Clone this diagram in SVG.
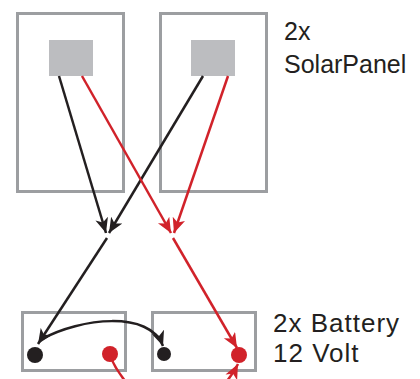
<svg xmlns="http://www.w3.org/2000/svg" width="420" height="379" viewBox="0 0 420 379">
<style>
.frame{fill:none;stroke:#9c9ea1;stroke-width:3}
.cell{fill:#bcbdc0}
.blk{fill:none;stroke:#231f20;stroke-width:2.5}
.red{fill:none;stroke:#d1222a;stroke-width:2.5}
.lbl{font-family:"Liberation Sans",Arial,sans-serif;font-size:25px;fill:#231f20}
.lb2{font-family:"Liberation Sans",Arial,sans-serif;font-size:26px;letter-spacing:1px;fill:#231f20}
</style>
<defs>
<marker id="ab" markerUnits="userSpaceOnUse" markerWidth="18" markerHeight="14" refX="15" refY="6.5" orient="auto">
<path d="M0,0 L15,6.5 L0,13 L4,6.5 Z" fill="#231f20"/>
</marker>
<marker id="ar" markerUnits="userSpaceOnUse" markerWidth="18" markerHeight="14" refX="15" refY="6.5" orient="auto">
<path d="M0,0 L15,6.5 L0,13 L4,6.5 Z" fill="#d1222a"/>
</marker>
</defs>
<g id="panel1">
<rect class="frame" x="17.5" y="13.5" width="106" height="178"/>
<rect class="cell" x="49" y="40" width="44" height="36"/>
</g>
<g id="panel2">
<rect class="frame" x="160.5" y="13.5" width="106" height="178"/>
<rect class="cell" x="191" y="40" width="44" height="36"/>
</g>
<g id="battery1">
<rect class="frame" x="22.5" y="312.5" width="103" height="58"/>
<circle cx="35" cy="355" r="8" fill="#231f20"/>
<circle cx="110" cy="354" r="8" fill="#d1222a"/>
</g>
<g id="battery2">
<rect class="frame" x="152.5" y="312.5" width="103" height="58"/>
<circle cx="164" cy="354" r="7" fill="#231f20"/>
<circle cx="239" cy="355" r="8" fill="#d1222a"/>
</g>
<g id="connectors">
<path class="blk" d="M59,76 L106,233" marker-end="url(#ab)"/>
<path class="blk" d="M203,76 L109,233" marker-end="url(#ab)"/>
<path class="red" d="M82,76 L171,233" marker-end="url(#ar)"/>
<path class="red" d="M228,76 L174,233" marker-end="url(#ar)"/>
<path class="blk" d="M107,238 L38,344" marker-end="url(#ab)"/>
<path class="red" d="M173,238 L237,348" marker-end="url(#ar)"/>
<path class="blk" d="M42,339 C80,318 150,310 163,346" marker-end="url(#ab)"/>
<path class="red" d="M110,356 Q116,370 126,382"/>
<path class="red" d="M226,382 Q233,374 238,364" marker-end="url(#ar)"/>
</g>
<g id="labels">
<text class="lbl" x="284" y="40">2x</text>
<text class="lbl" x="284" y="73">SolarPanel</text>
<text class="lb2" x="273" y="332">2x Battery</text>
<text class="lb2" x="273" y="362">12 Volt</text>
</g>
</svg>
